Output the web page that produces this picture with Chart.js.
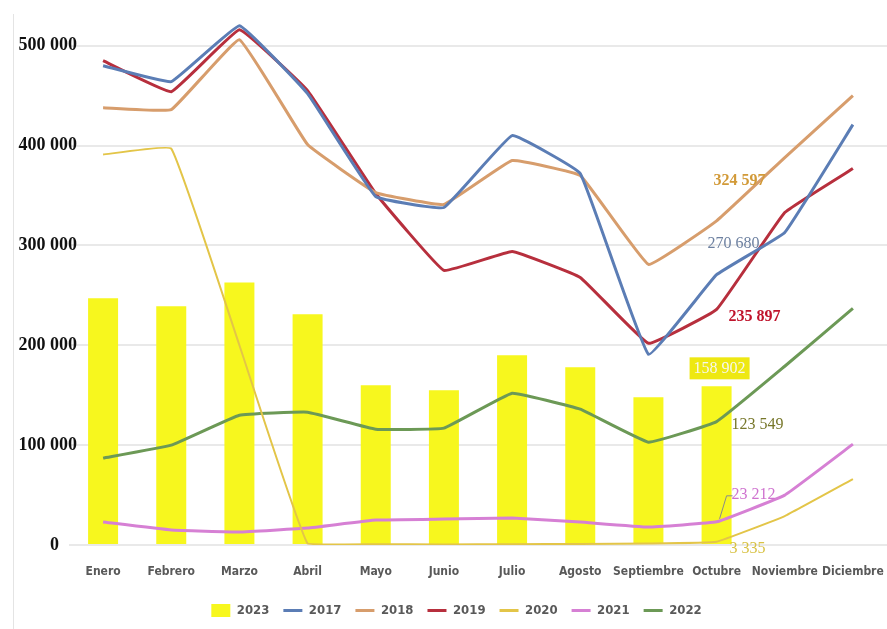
<!DOCTYPE html>
<html>
<head>
<meta charset="utf-8">
<script src="https://cdn.jsdelivr.net/npm/chart.js@4.4.0/dist/chart.umd.min.js"></script>
<style>
html,body{margin:0;padding:0;background:#fff;}
#wrap{position:relative;width:887px;height:629px;}
#edge{position:absolute;left:13px;top:14px;bottom:0;width:1px;background:#e4e4e4;}
canvas{position:absolute;left:0;top:0;}
</style>
</head>
<body>
<div id="wrap"><div id="edge"></div><canvas id="c" width="887" height="629"></canvas></div>
<script>
// Monthly series, 2017-2023 (Octubre values are the labelled ones)
const months = ["Enero","Febrero","Marzo","Abril","Mayo","Junio","Julio","Agosto","Septiembre","Octubre","Noviembre","Diciembre"];
const yTicks = [0,100000,200000,300000,400000,500000];
const v2023 = [247000,239000,263000,231000,160000,155000,190000,178000,148000,158902,null,null];
const v2017 = [480000,464000,520000,452000,349000,338000,410000,372000,191000,270680,313000,421000];
const v2018 = [438000,436000,506000,401000,353000,341000,385000,370000,281000,324597,388000,450000];
const v2019 = [485000,454000,516000,455000,352000,275000,294000,268000,202000,235897,333000,377000];
const v2020 = [391000,397000,200000,1500,800,600,800,1000,1500,3335,29000,66000];
const v2021 = [23000,15000,13000,17000,25000,26000,27000,23000,18000,23212,50000,101000];
const v2022 = [87000,100000,130000,133000,116000,117000,152000,136000,103000,123549,179000,237000];

const NARROW = "'Liberation Sans Narrow','Arial Narrow','DejaVu Sans Condensed',sans-serif";
const SERIF = "'Liberation Serif','Times New Roman',serif";
const GREY = "#595959";

const fmt = v => Math.round(v).toString().replace(/\B(?=(\d{3})+(?!\d))/g, " ");

function line(label, data, color, width){
  return {type:"line", label, data, borderColor:color, backgroundColor:color,
    borderWidth:width||3, pointRadius:0, tension:0.08, order:0};
}

// value labels at Octubre (ds = dataset index)
const noteAt = months.indexOf("Octubre");
const notes = [
  {ds:2, dx:23, dy:-40, color:"#d29a38", bold:true},
  {ds:1, dx:17, dy:-31, color:"#6d80a0", bold:false},
  {ds:3, dx:38, dy:7, color:"#c0142c", bold:true},
  {ds:0, dx:3, dy:-18, color:"#f7f7ee", bold:false, box:"#eee812"},
  {ds:6, dx:41, dy:3, color:"#77772a", bold:false},
  {ds:5, dx:37, dy:-27, color:"#cf72cf", bold:false, leader:true},
  {ds:4, dx:31, dy:7, color:"#d8c244", bold:false}
];

const notePlugin = {
  id:"notes",
  beforeDraw(chart){
    // let the y labels run a few px into the plot, like the original
    chart.scales.y._computeLabelArea = () => null;
  },
  afterDatasetsDraw(chart){
    const ctx = chart.ctx;
    ctx.save();
    ctx.textAlign = "center";
    ctx.textBaseline = "middle";
    notes.forEach(n=>{
      const meta = chart.getDatasetMeta(n.ds);
      const el = meta && meta.data[noteAt];
      if(!el) return;
      const val = chart.data.datasets[n.ds].data[noteAt];
      const x = el.x + n.dx, y = el.y + n.dy;
      const txt = fmt(val);
      ctx.font = (n.bold ? "bold " : "") + "16px " + SERIF;
      if(n.box){
        const w = ctx.measureText(txt).width;
        ctx.fillStyle = n.box;
        ctx.fillRect(x - w/2 - 4, y - 11, w + 8, 22);
      }
      if(n.leader){
        ctx.strokeStyle = "#8a8a8a";
        ctx.lineWidth = 1;
        ctx.beginPath();
        ctx.moveTo(el.x + 3, el.y - 3);
        ctx.lineTo(el.x + 10, el.y - 26);
        ctx.lineTo(el.x + 16, el.y - 26);
        ctx.stroke();
      }
      ctx.fillStyle = n.color;
      ctx.fillText(txt, x, y);
    });
    ctx.restore();
  }
};

new Chart(document.getElementById("c"), {
  data:{
    labels:months,
    datasets:[
      {type:"bar", label:"2023", data:v2023, backgroundColor:"#f7f71e",
        barPercentage:0.44, categoryPercentage:1, order:1},
      line("2017", v2017, "#5b7db5"),
      line("2018", v2018, "#d79d6c"),
      line("2019", v2019, "#b72f3d"),
      line("2020", v2020, "#e3c548", 2),
      line("2021", v2021, "#d680d4"),
      line("2022", v2022, "#6c9956")
    ]
  },
  options:{
    responsive:false,
    animation:false,
    layout:{autoPadding:false, padding:{top:0, bottom:2, left:26, right:0}},
    plugins:{
      tooltip:{enabled:false},
      legend:{
        position:"bottom",
        labels:{
          usePointStyle:true, pointStyleWidth:19, padding:14,
          color:GREY, font:{family:NARROW, size:13, weight:"bold"},
          generateLabels(chart){
            return chart.data.datasets.map((d,i)=>{
              const bar = d.type==="bar";
              const c = bar ? d.backgroundColor : d.borderColor;
              return {text:d.label, fillStyle:c, strokeStyle:c, lineWidth:bar?0:3,
                pointStyle:bar?"rect":"line", fontColor:GREY, datasetIndex:i, hidden:false};
            });
          }
        }
      }
    },
    scales:{
      x:{
        grid:{display:false, drawTicks:true, tickLength:20}, border:{display:false},
        ticks:{autoSkip:false, maxRotation:0, padding:0, color:GREY,
          font:{family:NARROW, size:12, weight:"bold"}},
        afterFit(s){ s.height = 45; }
      },
      y:{
        min:0, max:543000,
        grid:{color:"#e9e9e9", lineWidth:2, drawTicks:false}, border:{display:false},
        afterBuildTicks(s){ s.ticks = yTicks.map(v=>({value:v})); },
        ticks:{padding:-8, color:"#111",
          font:{family:SERIF, size:18, weight:"bold"},
          callback:v => v === 0 ? "0    " : fmt(v)},
        afterFit(s){ s.width = 43; }
      }
    }
  },
  plugins:[notePlugin]
});
</script>
</body>
</html>
